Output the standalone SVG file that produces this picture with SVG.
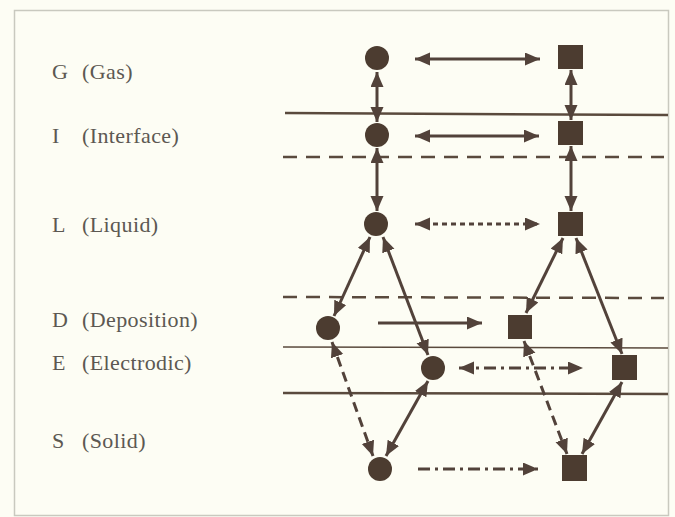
<svg xmlns="http://www.w3.org/2000/svg" width="675" height="517" viewBox="0 0 675 517">
  <style>
    .bg { fill: #fdfdf4; }
    .frame { fill: none; stroke: #c9c9bf; stroke-width: 1.5; }
    .label { font-family: "Liberation Serif", "Times New Roman", serif; font-size: 22px; letter-spacing: 0.4px; fill: #5c5852; }
    .node { fill: #4c3c30; }
    .layer { stroke: #5a4a3d; stroke-width: 2.5; fill: none; }
    .layer-thin { stroke: #5a4a3d; stroke-width: 1.5; fill: none; }
    .layer-dash { stroke: #5a4a3d; stroke-width: 2.5; stroke-dasharray: 14 9; fill: none; }
    .arr { stroke: #52423a; stroke-width: 3; fill: none; }
    .dotted { stroke-dasharray: 5 4; }
    .dashed { stroke-dasharray: 10 6; }
    .dashdot { stroke-dasharray: 12 5 3 5; }
  </style>
  <defs>
    <marker id="head" markerUnits="userSpaceOnUse" markerWidth="16" markerHeight="14" refX="15" refY="6.5" orient="auto-start-reverse">
      <path d="M0,0 L15,6.5 L0,13 z" fill="#52423a"/>
    </marker>
  </defs>

  <rect class="bg" x="0" y="0" width="675" height="517"/>
  <rect class="frame" x="14.5" y="10.5" width="654" height="505"/>

  <!-- phase labels: letter code, then the phase name in brackets -->
  <g id="labels">
    <text class="label" y="79"><tspan x="52">G</tspan><tspan x="82">(Gas)</tspan></text>
    <text class="label" y="143"><tspan x="52">I</tspan><tspan x="82">(Interface)</tspan></text>
    <text class="label" y="232"><tspan x="52">L</tspan><tspan x="82">(Liquid)</tspan></text>
    <text class="label" y="327"><tspan x="52">D</tspan><tspan x="82">(Deposition)</tspan></text>
    <text class="label" y="370"><tspan x="52">E</tspan><tspan x="82">(Electrodic)</tspan></text>
    <text class="label" y="448"><tspan x="52">S</tspan><tspan x="82">(Solid)</tspan></text>
  </g>

  <!-- phase boundaries -->
  <g id="boundaries">
    <line class="layer" x1="285" y1="113" x2="668" y2="115"/>
    <line class="layer-dash" x1="283" y1="157" x2="664" y2="157"/>
    <line class="layer-dash" x1="283" y1="297" x2="664" y2="298"/>
    <line class="layer-thin" x1="283" y1="347" x2="668" y2="348"/>
    <line class="layer" x1="283" y1="393" x2="668" y2="394"/>
  </g>

  <!-- connectors -->
  <g id="connectors">
    <!-- horizontal exchanges -->
    <line class="arr" x1="415" y1="59" x2="540" y2="59" marker-start="url(#head)" marker-end="url(#head)"/>
    <line class="arr" x1="415" y1="136" x2="539" y2="136" marker-start="url(#head)" marker-end="url(#head)"/>
    <line class="arr dotted" x1="415" y1="224" x2="540" y2="224" marker-start="url(#head)" marker-end="url(#head)"/>
    <line class="arr" x1="378" y1="323" x2="482" y2="323" marker-end="url(#head)"/>
    <line class="arr dashdot" x1="459" y1="368" x2="583" y2="368" marker-start="url(#head)" marker-end="url(#head)"/>
    <line class="arr dashdot" x1="418" y1="469" x2="538" y2="469" marker-end="url(#head)"/>

    <!-- vertical exchanges -->
    <line class="arr" x1="377" y1="72" x2="377" y2="122" marker-start="url(#head)" marker-end="url(#head)"/>
    <line class="arr" x1="377" y1="148" x2="377" y2="211" marker-start="url(#head)" marker-end="url(#head)"/>
    <line class="arr" x1="571" y1="70" x2="571" y2="120" marker-start="url(#head)" marker-end="url(#head)"/>
    <line class="arr" x1="571" y1="146" x2="571" y2="211" marker-start="url(#head)" marker-end="url(#head)"/>

    <!-- circle branch -->
    <line class="arr" x1="370" y1="237" x2="334" y2="316" marker-start="url(#head)" marker-end="url(#head)"/>
    <line class="arr" x1="383" y1="237" x2="428" y2="355" marker-start="url(#head)" marker-end="url(#head)"/>
    <line class="arr dashed" x1="332" y1="342" x2="373" y2="456" marker-start="url(#head)" marker-end="url(#head)"/>
    <line class="arr" x1="428" y1="381" x2="386" y2="456" marker-start="url(#head)" marker-end="url(#head)"/>

    <!-- square branch -->
    <line class="arr" x1="563" y1="238" x2="526" y2="313" marker-start="url(#head)" marker-end="url(#head)"/>
    <line class="arr" x1="576" y1="238" x2="622" y2="354" marker-start="url(#head)" marker-end="url(#head)"/>
    <line class="arr dashed" x1="524" y1="341" x2="567" y2="454" marker-start="url(#head)" marker-end="url(#head)"/>
    <line class="arr" x1="622" y1="382" x2="582" y2="454" marker-start="url(#head)" marker-end="url(#head)"/>
  </g>

  <!-- circle nodes -->
  <g id="c-gas"><circle class="node" cx="377" cy="58" r="12"/></g>
  <g id="c-interface"><circle class="node" cx="377" cy="135" r="12"/></g>
  <g id="c-liquid"><circle class="node" cx="376" cy="224" r="12"/></g>
  <g id="c-deposition"><circle class="node" cx="328" cy="328" r="12"/></g>
  <g id="c-electrodic"><circle class="node" cx="433" cy="368" r="12"/></g>
  <g id="c-solid"><circle class="node" cx="380" cy="469" r="12"/></g>

  <!-- square nodes -->
  <g id="s-gas"><rect class="node" x="558" y="45" width="25" height="24"/></g>
  <g id="s-interface"><rect class="node" x="558" y="121" width="25" height="24"/></g>
  <g id="s-liquid"><rect class="node" x="558" y="212" width="25" height="24"/></g>
  <g id="s-deposition"><rect class="node" x="508" y="315" width="24" height="24"/></g>
  <g id="s-electrodic"><rect class="node" x="612" y="355" width="25" height="25"/></g>
  <g id="s-solid"><rect class="node" x="562" y="455" width="25" height="26"/></g>
</svg>
